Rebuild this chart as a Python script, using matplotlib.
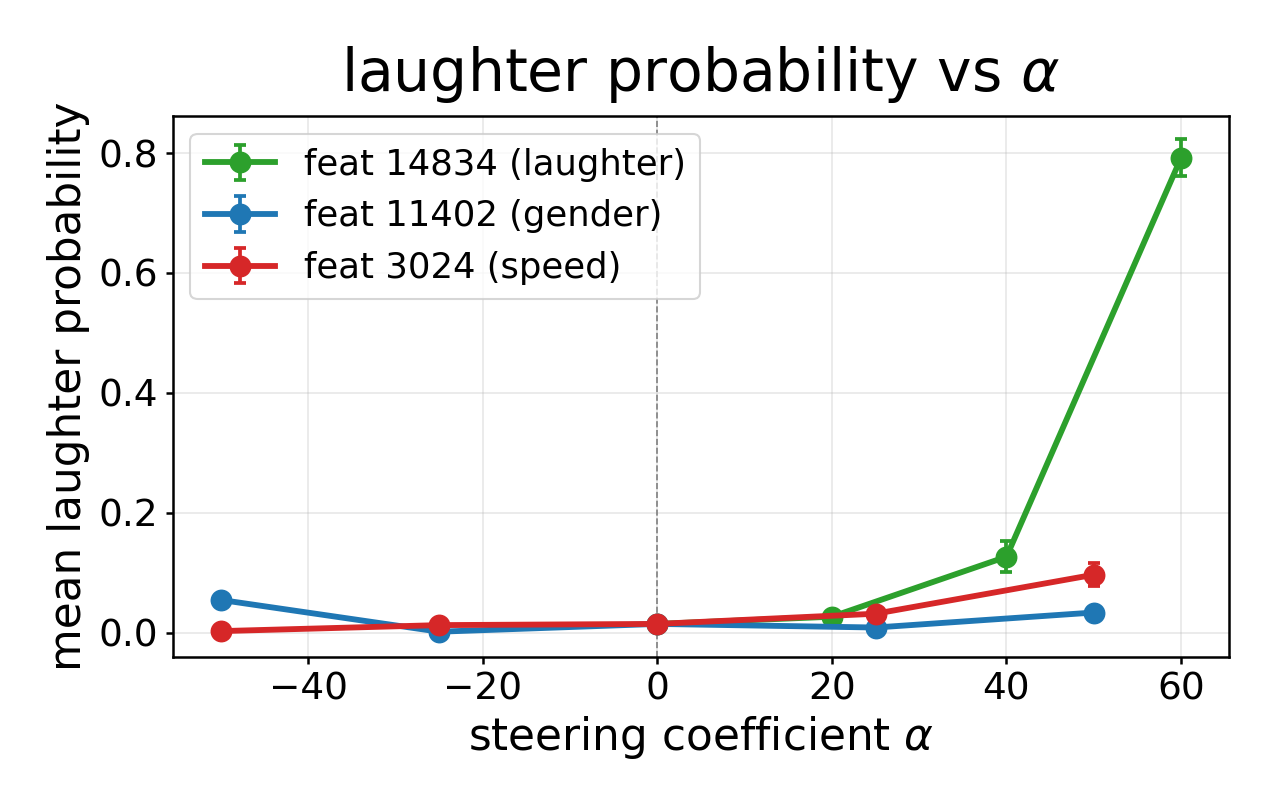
import numpy as np
import matplotlib
matplotlib.use('Agg')
import matplotlib.pyplot as plt

# Data
alpha_laugh = [0, 20, 40, 60]
prob_laugh = [0.015, 0.027, 0.127, 0.792]
err_laugh = [0.003, 0.005, 0.026, 0.031]

alpha_gender = [-50, -25, 0, 25, 50]
prob_gender = [0.055, 0.002, 0.015, 0.009, 0.034]
err_gender = [0.004, 0.002, 0.003, 0.003, 0.004]

alpha_speed = [-50, -25, 0, 25, 50]
prob_speed = [0.003, 0.013, 0.015, 0.032, 0.097]
err_speed = [0.002, 0.004, 0.003, 0.005, 0.019]

labels = ['feat 14834 (laughter)', 'feat 11402 (gender)', 'feat 3024 (speed)']
colors = ['#2ca02c', '#1f77b4', '#d62728']

fig, ax = plt.subplots(figsize=(8.5, 5.4), dpi=150)
fig.subplots_adjust(left=0.1355, right=0.964, top=0.857, bottom=0.189)

series = [(alpha_laugh, prob_laugh, err_laugh),
          (alpha_gender, prob_gender, err_gender),
          (alpha_speed, prob_speed, err_speed)]

for (x, y, e), lab, c in zip(series, labels, colors):
    ax.errorbar(x, y, yerr=e, marker='o', markersize=9.5, linewidth=2.8,
                capsize=3, elinewidth=1.8, capthick=1.8, color=c, label=lab)

ax.axvline(0, color='gray', linestyle='--', linewidth=0.8)
ax.grid(True, alpha=0.3)
ax.set_xlim(-55.5, 65.5)
ax.set_ylim(-0.04, 0.862)

ax.set_title(r'laughter probability vs $\alpha$', fontsize=28, pad=12)
ax.set_xlabel(r'steering coefficient $\alpha$', fontsize=21, labelpad=3)
ax.set_ylabel('mean laughter probability', fontsize=21)
ax.tick_params(labelsize=18, width=1.2)
for s in ax.spines.values():
    s.set_linewidth(1.2)

ax.legend(loc='upper left', fontsize=17)

fig.savefig('out.png', dpi=150)
